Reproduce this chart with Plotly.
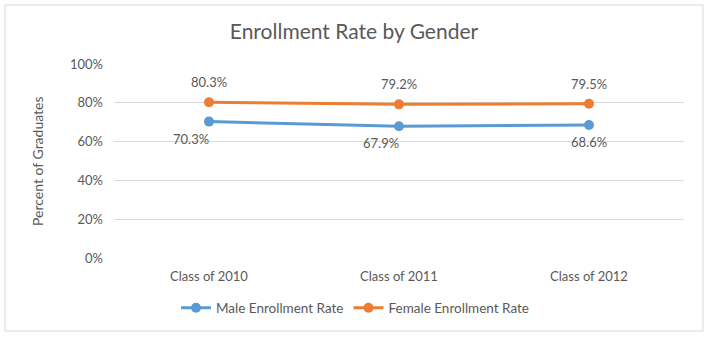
import plotly.graph_objects as go

categories = ["Class of 2010", "Class of 2011", "Class of 2012"]
male = [70.3, 67.9, 68.6]
female = [80.3, 79.2, 79.5]
y_ticks = [0, 20, 40, 60, 80, 100]

BLUE = "#5B9BD5"
ORANGE = "#ED7D31"
TXT = "#595959"
FONT = "Lato, Open Sans, sans-serif"

fig = go.Figure()
fig.add_trace(go.Scatter(
    x=categories, y=male, name="Male Enrollment Rate", mode="lines+markers",
    line=dict(color=BLUE, width=3), marker=dict(color=BLUE, size=10),
))
fig.add_trace(go.Scatter(
    x=categories, y=female, name="Female Enrollment Rate", mode="lines+markers",
    line=dict(color=ORANGE, width=3), marker=dict(color=ORANGE, size=10),
))

annotations = []
male_anchor = ["right", "right", "center"]
for c, v, a in zip(categories, male, male_anchor):
    annotations.append(dict(x=c, y=v, xref="x", yref="y", text=f"{v:.1f}%", showarrow=False,
                            xanchor=a, yanchor="middle", yshift=-17, xshift=2 if a == "right" else 0,
                            font=dict(size=13, color=TXT, family=FONT)))
for c, v in zip(categories, female):
    annotations.append(dict(x=c, y=v, xref="x", yref="y", text=f"{v:.1f}%", showarrow=False,
                            xanchor="center", yanchor="middle", yshift=20,
                            font=dict(size=13, color=TXT, family=FONT)))
annotations.append(dict(text="Percent of Graduates", textangle=-90, xref="paper", yref="paper",
                        x=(37 - 114) / 570, y=0.5, showarrow=False, xanchor="center", yanchor="middle",
                        font=dict(size=14, color=TXT, family=FONT)))

fig.update_layout(
    width=708, height=338,
    margin=dict(l=114, r=24, t=64, b=80, autoexpand=False),
    paper_bgcolor="white", plot_bgcolor="white",
    font=dict(family=FONT, size=13, color=TXT),
    title=dict(text="Enrollment Rate by Gender", x=0.5, xref="container", y=1 - 32/338,
               yanchor="middle", xanchor="center",
               font=dict(size=21, color=TXT, family=FONT)),
    showlegend=True,
    legend=dict(orientation="h", x=(355 - 114) / 570, xanchor="center",
                y=-0.258, yanchor="middle", itemwidth=30,
                font=dict(size=13.5, color=TXT, family=FONT)),
    xaxis=dict(range=[-0.5, 2.5], showgrid=False, showline=False, zeroline=False,
               ticks="", ticklabelstandoff=9, tickfont=dict(size=13, color=TXT)),
    yaxis=dict(range=[0, 100], tickvals=y_ticks, ticktext=[f"{v}%" for v in y_ticks],
               showgrid=True, gridcolor="#D9D9D9", gridwidth=1, zeroline=False,
               showline=False, ticks="", ticklabelstandoff=10, tickfont=dict(size=13, color=TXT)),
    annotations=annotations,
    shapes=[dict(type="rect", xref="paper", yref="paper",
                 x0=(5 - 114) / 570, x1=(703 - 114) / 570,
                 y0=(258 - 331) / 194, y1=(258 - 5) / 194,
                 line=dict(color="#D9D9D9", width=1), fillcolor="rgba(0,0,0,0)", layer="below")],
)

fig.write_html("out.html")
